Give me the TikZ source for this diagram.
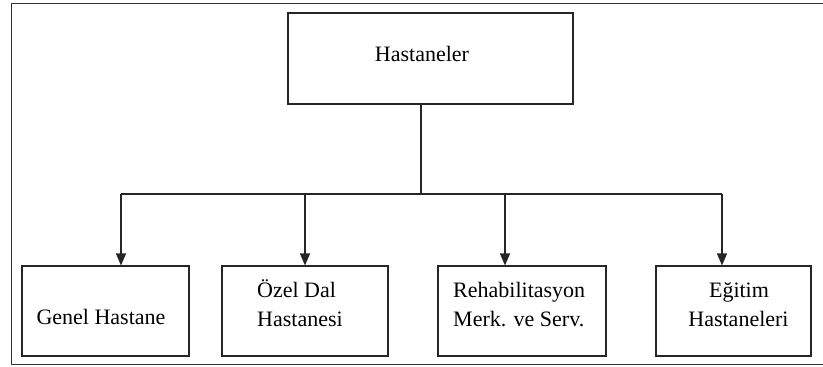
\documentclass[tikz,border=0pt]{standalone}
\usepackage{fontspec}
\setmainfont{Liberation Serif}
\usetikzlibrary{arrows.meta}
\begin{document}
\begin{tikzpicture}[x=1pt,y=-1pt,
  box/.style={draw=black!85, line width=1.1pt, inner sep=0pt},
  txt/.style={inner sep=0pt, font=\fontsize{22}{28}\selectfont},
  link/.style={draw=black!85, line width=1.1pt},
  arr/.style={link, -{Triangle[width=10pt,length=12pt]}}]
\useasboundingbox (0,0) rectangle (823,367);

% open outer frame
\draw[black!80, line width=1.6pt] (830,3.5) -- (11.5,3.5) -- (11.5,364.5) -- (830,364.5);

% boxes
\node[box, minimum width=285pt, minimum height=91pt] (top) at (430.5,58.5) {};
\node[box, minimum width=167pt, minimum height=90pt] (b1) at (105.5,311) {};
\node[box, minimum width=166pt, minimum height=90pt] (b2) at (305,311) {};
\node[box, minimum width=168pt, minimum height=90pt] (b3) at (522,311) {};
\node[box, minimum width=155pt, minimum height=90pt] (b4) at (733.5,311) {};

% labels
\node[txt, anchor=base] (t0) at (422,61) {Hastaneler};
\node[txt, anchor=base] (t1) at (101,324) {Genel Hastane};
\node[txt, anchor=base west] (t2a) at (257,297) {Özel Dal};
\node[txt, anchor=base west] (t2b) at (257,326) {Hastanesi};
\node[txt, anchor=base west] (t3a) at (453,297) {Rehabilitasyon};
\node[txt, anchor=base west] (t3b) at (453,326) {Merk. ve Serv.};
\node[txt, anchor=base] (t4a) at (739,297) {Eğitim};
\node[txt, anchor=base] (t4b) at (738.5,326) {Hastaneleri};

% connectors
\coordinate (j) at (421,194);
\coordinate (k1) at (121,194);
\coordinate (k2) at (305,194);
\coordinate (k3) at (505,194);
\coordinate (k4) at (722,194);
\draw[link] (j |- top.south) -- (j);
\draw[link] (k1) -- (k4);
\draw[arr] (k1) -- (k1 |- b1.north);
\draw[arr] (k2) -- (k2 |- b2.north);
\draw[arr] (k3) -- (k3 |- b3.north);
\draw[arr] (k4) -- (k4 |- b4.north);
\end{tikzpicture}
\end{document}
